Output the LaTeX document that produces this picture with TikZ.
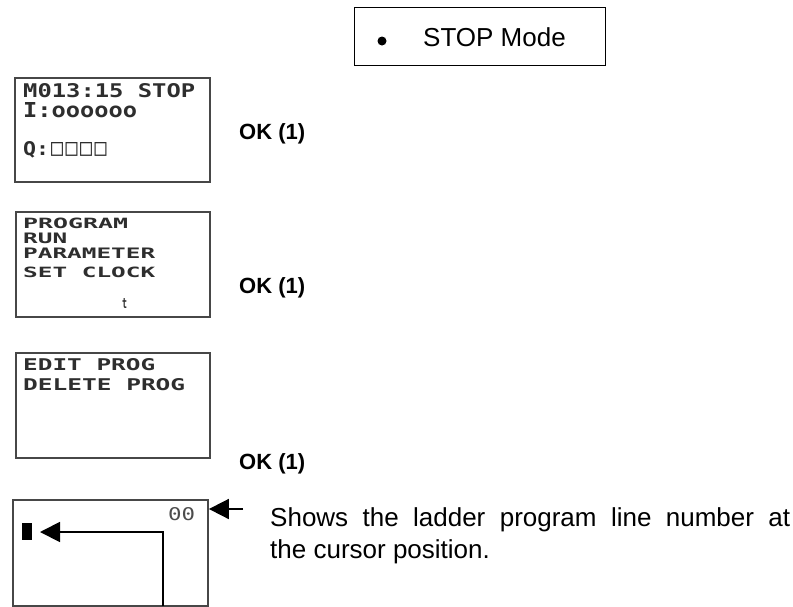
\documentclass[tikz,border=0pt]{standalone}
\usepackage{fontspec}
\usepackage{graphicx}
\setmainfont{Liberation Sans}
\newfontfamily\lcdfont{DejaVu Sans Mono}
\usetikzlibrary{arrows.meta}
\newcommand{\lcdtxt}[3]{\resizebox{#1pt}{#2pt}{\lcdfont\bfseries #3}}
\newcommand{\lcdsq}{\resizebox{12pt}{13pt}{\lcdfont\bfseries □}}
\begin{document}
\begin{tikzpicture}[x=1pt,y=-1pt,
  lcdbox/.style={draw=black!72, line width=1.9pt, inner sep=0pt, anchor=north west},
  lcd/.style={anchor=base west, inner sep=0pt, text=black!82},
  oklabel/.style={anchor=base west, inner sep=0pt, font=\fontsize{22}{26}\selectfont\bfseries},
  body/.style={anchor=base west, inner sep=0pt, font=\fontsize{26}{30}\selectfont},
  ptr/.style={draw=black, line width=1.8pt, -{Triangle[length=20pt,width=20pt]}},
]
\useasboundingbox (0,0) rectangle (793,606);

% title box
\node[draw=black, line width=1.2pt, minimum width=251pt, minimum height=58pt, anchor=north west, inner sep=0pt] (title) at (354,7) {};
\fill (382,41) circle (4.5pt);
\node[body] (titletext) at (423,46) {STOP Mode};

% screen 1
\node[lcdbox, minimum width=195pt, minimum height=104pt] (b1) at (14,77) {};
\node[lcd] (s1a) at (23,97) {\lcdtxt{172}{14}{M013:15 STOP}};
\node[lcd] (s1b) at (23,117) {\lcdtxt{114}{15}{I:oooooo}};
\node[lcd] (s1c) at (23,155) {\lcdtxt{26}{14}{Q:}\hspace{2pt}\lcdsq\hspace{2.5pt}\lcdsq\hspace{2.5pt}\lcdsq\hspace{2.5pt}\lcdsq};
\node[oklabel] (ok1) at (239,139) {OK (1)};

% screen 2
\node[lcdbox, minimum width=194pt, minimum height=105pt] (b2) at (15,211) {};
\node[lcd] (s2a) at (23,228.5) {\lcdtxt{105}{10.5}{PROGRAM}};
\node[lcd] (s2b) at (23,243) {\lcdtxt{44}{10.5}{RUN}};
\node[lcd] (s2c) at (23,258.5) {\lcdtxt{132}{10.5}{PARAMETER}};
\node[lcd] (s2d) at (23,277) {\lcdtxt{132}{10.5}{SET CLOCK}};
\node[lcd] (s2e) at (122,308) {\lcdtxt{5}{10}{t}};
\node[oklabel] (ok2) at (239,293) {OK (1)};

% screen 3
\node[lcdbox, minimum width=194pt, minimum height=105pt] (b3) at (15,352) {};
\node[lcd] (s3a) at (23,370) {\lcdtxt{132}{12}{EDIT PROG}};
\node[lcd] (s3b) at (23,390) {\lcdtxt{162}{12}{DELETE PROG}};
\node[oklabel] (ok3) at (239,469) {OK (1)};

% screen 4
\node[lcdbox, minimum width=195pt, minimum height=106pt] (b4) at (12,499) {};
\node[lcd, text=black!70] (num) at (168,520) {\resizebox{27pt}{13pt}{\lcdfont 00}};
\node[fill=black, minimum width=10pt, minimum height=17pt, inner sep=0pt, anchor=north west] (cur) at (22,523) {};

\coordinate (numsrc) at (243,509);
\coordinate (numtip) at (b4.east |- numsrc);
\draw[ptr] (numsrc) -- (numtip);

\coordinate (cursrc) at (163,606);
\coordinate (curtip) at (40,532);
\draw[ptr] (cursrc) |- (curtip);

% explanation
\node[body] (ex1) at (270,526) {\makebox[520pt][s]{Shows the ladder program line number at}};
\node[body] (ex2) at (270,558) {the cursor position.};
\end{tikzpicture}
\end{document}
